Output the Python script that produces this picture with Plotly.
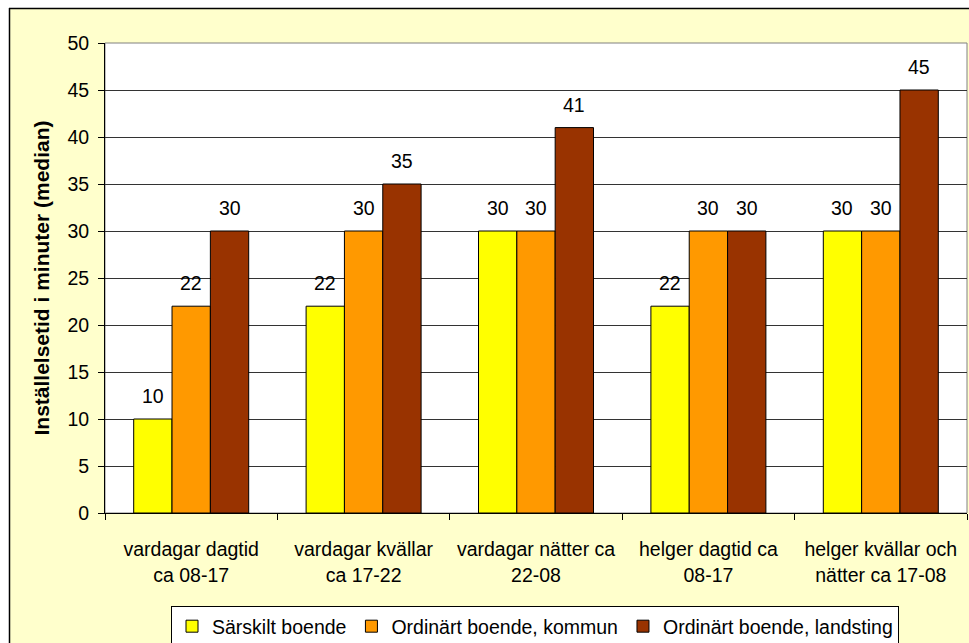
import plotly.graph_objects as go

categories = [
    "vardagar dagtid<br>ca 08-17",
    "vardagar kvällar<br>ca 17-22",
    "vardagar nätter ca<br>22-08",
    "helger dagtid ca<br>08-17",
    "helger kvällar och<br>nätter ca 17-08",
]
series_names = ["Särskilt boende", "Ordinärt boende, kommun", "Ordinärt boende, landsting"]
sarskilt = [10, 22, 30, 22, 30]
ordinart_kommun = [22, 30, 30, 30, 30]
ordinart_landsting = [30, 35, 41, 30, 45]
colors = ["#FFFF00", "#FF9900", "#993300"]

FONT = "Arial, Liberation Sans, sans-serif"
FS = 19.5
BARGAP = 0.333

series = [sarskilt, ordinart_kommun, ordinart_landsting]

fig = go.Figure()
for name, vals, col in zip(series_names, series, colors):
    fig.add_trace(go.Bar(
        x=categories, y=vals, name=name,
        marker=dict(color=col, line=dict(color="black", width=1)),
    ))

# value labels above each bar (category index + group offset)
bar_w = (1 - BARGAP) / len(series)
annotations = []
for k, vals in enumerate(series):
    off = (k - (len(series) - 1) / 2) * bar_w
    for i, v in enumerate(vals):
        annotations.append(dict(
            x=i + off, y=v, xref="x", yref="y", text=str(v), showarrow=False,
            xanchor="center", yanchor="bottom", yshift=10,
            font=dict(family=FONT, size=FS, color="black"),
        ))

# plot area in pixels: left 105, right 967, top 43, bottom 513
L, R, T, B = 105, 967, 43, 513
W, H = 969, 643


def px(x):
    return (x - L) / (R - L)


def py(y):
    return (B - y) / (B - T)


shapes = [
    # white margin outside the chart frame
    dict(type="rect", xref="paper", yref="paper", x0=px(-5), x1=px(W + 5), y0=py(8), y1=py(-5),
         fillcolor="white", line=dict(width=0), layer="above"),
    dict(type="rect", xref="paper", yref="paper", x0=px(-5), x1=px(9), y0=py(H + 5), y1=py(-5),
         fillcolor="white", line=dict(width=0), layer="above"),
    # chart frame
    dict(type="line", xref="paper", yref="paper", x0=px(9), x1=px(W + 5), y0=py(8.5), y1=py(8.5),
         line=dict(color="black", width=1.5), layer="above"),
    dict(type="line", xref="paper", yref="paper", x0=px(9.5), x1=px(9.5), y0=py(8), y1=py(H + 5),
         line=dict(color="black", width=1.5), layer="above"),
    # plot area border (top and right)
    dict(type="rect", xref="paper", yref="paper", x0=0, x1=1, y0=0, y1=1,
         line=dict(color="#808080", width=1), layer="below"),
]

fig.update_layout(
    width=W, height=H,
    margin=dict(l=L, r=W - R, t=T, b=H - B, autoexpand=False),
    paper_bgcolor="#FFFFCC",
    plot_bgcolor="white",
    barmode="group",
    bargap=BARGAP,
    bargroupgap=0,
    font=dict(family=FONT, size=FS, color="black"),
    shapes=shapes,
    annotations=annotations,
    showlegend=True,
    legend=dict(
        orientation="h", x=px(535), xanchor="center", y=py(606), yanchor="top",
        bgcolor="white", bordercolor="black", borderwidth=1,
        font=dict(family=FONT, size=19.5, color="black"),
        itemwidth=30, tracegroupgap=0,
    ),
    xaxis=dict(
        automargin=False,
        tickson="boundaries", ticks="outside", ticklen=6, tickcolor="black",
        showline=True, linecolor="black", linewidth=1,
        tickfont=dict(family=FONT, size=FS, color="black"),
        ticklabelstandoff=19,
        showgrid=False,
    ),
    yaxis=dict(
        automargin=False,
        range=[0, 50], dtick=5, tick0=0,
        ticks="outside", ticklen=6, tickcolor="black",
        showline=True, linecolor="black", linewidth=1,
        gridcolor="#333333", gridwidth=1,
        zeroline=False,
        tickfont=dict(family=FONT, size=FS, color="black"),
        ticklabelstandoff=5,
        title=dict(text="<b>Inställelsetid i minuter (median)</b>",
                   font=dict(family=FONT, size=21, color="black"), standoff=12),
    ),
)

fig.write_html("out.html")
